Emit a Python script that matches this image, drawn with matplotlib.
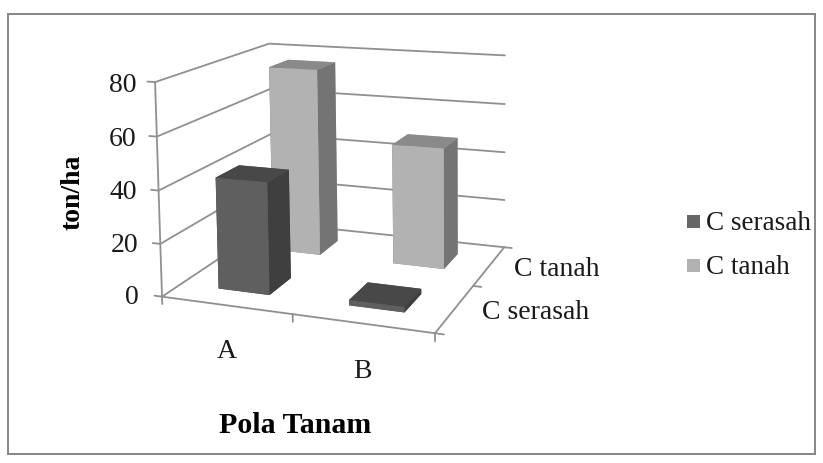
import numpy as np
import matplotlib
matplotlib.use("Agg")
import matplotlib.pyplot as plt
from matplotlib.patches import Rectangle
from mpl_toolkits.mplot3d import proj3d

plt.rcParams['font.family'] = ['Liberation Serif', 'DejaVu Serif']

pola = ['A', 'B']
seri = ['C serasah', 'C tanah']
c_serasah = [42.5, 2]
c_tanah = [76, 48]
z_ticks = [0, 20, 40, 60, 80]

# warna tiap sisi: depan, atas, samping
warna = {'C serasah': ('#5f5f5f', '#484848', '#3f3f3f'),
         'C tanah': ('#b2b2b2', '#8a8a8a', '#747474')}
warna_garis = '#909090'

W, H = 823, 464
fig = plt.figure(figsize=(W/100, H/100), dpi=100)
fig.patch.set_facecolor('white')
fig.add_artist(Rectangle((8/W, 1-455/H), 807/W, 440/H, transform=fig.transFigure,
                         fill=False, ec='#868686', lw=1.4))

ax = fig.add_axes([60/W, 0, H/W, 1], projection='3d', computed_zorder=False)
ax.set_proj_type('ortho')
ax.patch.set_alpha(0)
ax.set_xticks([])
ax.set_yticks([])
ax.set_zticks([])
ax.set_axis_off()
ax.set_xlim(0, 2)
ax.set_ylim(0, 2)
ax.set_zlim(0, 80)
ax.apply_aspect()

# kamera: dicocokkan dari sudut-sudut kotak pada gambar (piksel)
sudut = [((0, 0, 0), (163, 298)), ((2, 0, 0), (434, 335)), ((2, 2, 0), (505, 247)),
         ((0, 2, 0), (272, 224)), ((0, 0, 80), (155, 82)), ((0, 2, 80), (269, 45)),
         ((2, 2, 80), (505, 57))]
A, b = [], []
for (x, y, z), (u, v) in sudut:
    A.append([x, y, z, 1, 0, 0, 0, 0, -u*x, -u*y, -u*z])
    A.append([0, 0, 0, 0, x, y, z, 1, -v*x, -v*y, -v*z])
    b += [u, v]
p = np.linalg.lstsq(np.array(A, float), np.array(b, float), rcond=None)[0]
P = np.array([p[:4], p[4:8], [*p[8:], 1.0]])

# piksel gambar -> koordinat tampilan -> koordinat 2D axes
balik_y = np.array([[1, 0, 0], [0, -1, H], [0, 0, 1]], float)
T = ax.transData.inverted().get_matrix() @ balik_y @ P
M = np.array([T[0], T[1], [-0.25, 0.5, -0.3/80, 0], T[2]])
ax.get_proj = lambda: M


def garis(xs, ys, zs, lw=1.3):
    ax.plot(xs, ys, zs, color=warna_garis, lw=lw, zorder=1, solid_capstyle='round')


def teks(x, y, z, s, ha):
    xp, yp, _ = proj3d.proj_transform(x, y, z, M)
    ax.text2D(xp, yp, s, transform=ax.transData, fontsize=20, ha=ha, va='center',
              color='#1a1a1a')


for v in z_ticks:
    garis([0, 0, 2], [0, 2, 2], [v, v, v])
    garis([-0.06, 0], [0, 0], [v, v])
    teks(-0.19 + v/80*0.04, 0, v - 1.2, str(v), 'right')
garis([0, 0], [0, 0], [0, 80])
garis([0, 2, 2], [0, 0, 2], [0, 0, 0])
for i in range(3):
    garis([i, i], [0, 0], [-2.8, 0])
    garis([2, 2.06], [i, i], [0, 0])
for i, nama in enumerate(pola):
    teks(i + 0.5, 0, -17, nama, 'center')
for j, nama in enumerate(seri):
    teks(2.19, j + 0.5, 0, nama, 'left')

lebar = 0.4
urut = 2
for j, nilai in reversed(list(enumerate([c_serasah, c_tanah]))):
    w = warna[seri[j]]
    for i, v in enumerate(nilai):
        cols = [w[1], w[1], w[0], w[0], w[2], w[2]]
        ax.bar3d(i + 0.5 - lebar/2, j + 0.5 - lebar/2, 0, lebar, lebar, v,
                 color=cols, shade=False, edgecolor='none', zorder=urut)
        urut += 1
ax.set_xlim(0, 2)
ax.set_ylim(0, 2)
ax.set_zlim(0, 80)

fig.text(73/W, 1-192/H, 'ton/ha', rotation=90, fontsize=20, fontweight='bold',
         ha='center', va='center')
fig.text(295/W, 1-426/H, 'Pola Tanam', fontsize=21.5, fontweight='bold',
         ha='center', va='center')

warna_legend = ['#666666', '#b2b2b2']
for nama, c, y in zip(seri, warna_legend, [222, 266]):
    fig.add_artist(Rectangle((687/W, 1-(y+6.5)/H), 13/W, 13/H, transform=fig.transFigure,
                             fc=c, ec='none'))
    fig.text(706/W, 1-(y+2)/H, nama, fontsize=19.5, va='center', color='#1a1a1a')

fig.savefig('out.png', dpi=100)
